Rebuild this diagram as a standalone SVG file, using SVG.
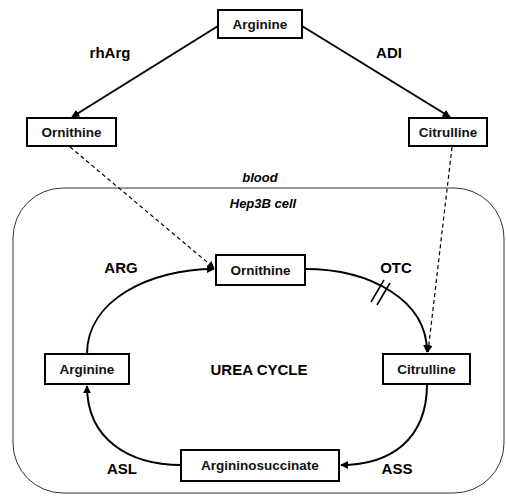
<svg xmlns="http://www.w3.org/2000/svg" width="506" height="500" viewBox="0 0 506 500">
<style>
.box{fill:#fff;stroke:#000;stroke-width:2}
.bt{font-family:"Liberation Sans",Arial,sans-serif;font-size:13.5px;font-weight:bold;text-anchor:middle;dominant-baseline:central;fill:#111}
.lbl{font-family:"Liberation Sans",Arial,sans-serif;font-size:15px;font-weight:bold;text-anchor:middle;dominant-baseline:central;fill:#000}
.it{font-family:"Liberation Sans",Arial,sans-serif;font-size:13px;font-weight:bold;font-style:italic;text-anchor:middle;dominant-baseline:central;fill:#000}
.c{fill:none;stroke:#000;stroke-width:2}
.d{fill:none;stroke:#000;stroke-width:1.2;stroke-dasharray:4,3}
</style>
<defs>
<marker id="ah" viewBox="0 0 10 10" refX="9" refY="5" markerWidth="4" markerHeight="4" orient="auto" markerUnits="strokeWidth">
<path d="M0,0 L10,5 L0,10 z" fill="#000"/>
</marker>
<marker id="ahd" viewBox="0 0 10 10" refX="9" refY="5" markerWidth="6" markerHeight="6" orient="auto" markerUnits="strokeWidth">
<path d="M0,0 L10,5 L0,10 z" fill="#000"/>
</marker>
</defs>
<rect id="cell" x="13" y="188" width="491" height="305" rx="50" ry="50" fill="none" stroke="#333" stroke-width="1"/>
<g id="connectors">
<path class="c" d="M218,26 L72,117" marker-end="url(#ah)"/>
<path class="c" d="M302,26 L450,117" marker-end="url(#ah)"/>
<path class="d" d="M70,147 L214,268" marker-end="url(#ahd)"/>
<path class="d" d="M452,147 L428,352" marker-end="url(#ahd)"/>
<path class="c" d="M87,354 C87,300 150,269 214,269" marker-end="url(#ah)"/>
<path class="c" d="M305,269 C370,269 427,300 427,352" marker-end="url(#ah)"/>
<path class="c" d="M427,384 C427,440 390,465 341,465" marker-end="url(#ah)"/>
<path class="c" d="M181,465 C130,465 87,440 87,386" marker-end="url(#ah)"/>
<path fill="none" stroke="#000" stroke-width="1.5" d="M371,302 L384,280 M377,305 L390,283"/>
</g>
<g id="arginine-top"><rect class="box" x="218" y="10" width="84" height="28"/><text class="bt" x="260" y="24">Arginine</text></g>
<g id="ornithine-blood"><rect class="box" x="27" y="118" width="89" height="28"/><text class="bt" x="71.5" y="132">Ornithine</text></g>
<g id="citrulline-blood"><rect class="box" x="409" y="118" width="78" height="28"/><text class="bt" x="448" y="132">Citrulline</text></g>
<g id="ornithine-cell"><rect class="box" x="216" y="255" width="89" height="30"/><text class="bt" x="260.5" y="270">Ornithine</text></g>
<g id="arginine-cell"><rect class="box" x="45" y="354" width="84" height="30"/><text class="bt" x="87" y="369">Arginine</text></g>
<g id="citrulline-cell"><rect class="box" x="383" y="354" width="87" height="30"/><text class="bt" x="426.5" y="369">Citrulline</text></g>
<g id="argininosuccinate"><rect class="box" x="181" y="450" width="158" height="31"/><text class="bt" x="260" y="465.5">Argininosuccinate</text></g>
<g id="labels">
<text class="lbl" x="110" y="52">rhArg</text>
<text class="lbl" x="389" y="52">ADI</text>
<text class="it" x="260" y="177">blood</text>
<text class="it" x="263" y="203">Hep3B cell</text>
<text class="lbl" x="121" y="267">ARG</text>
<text class="lbl" x="396" y="267">OTC</text>
<text class="lbl" x="259" y="369">UREA CYCLE</text>
<text class="lbl" x="122" y="468">ASL</text>
<text class="lbl" x="397" y="468">ASS</text>
</g>
</svg>
